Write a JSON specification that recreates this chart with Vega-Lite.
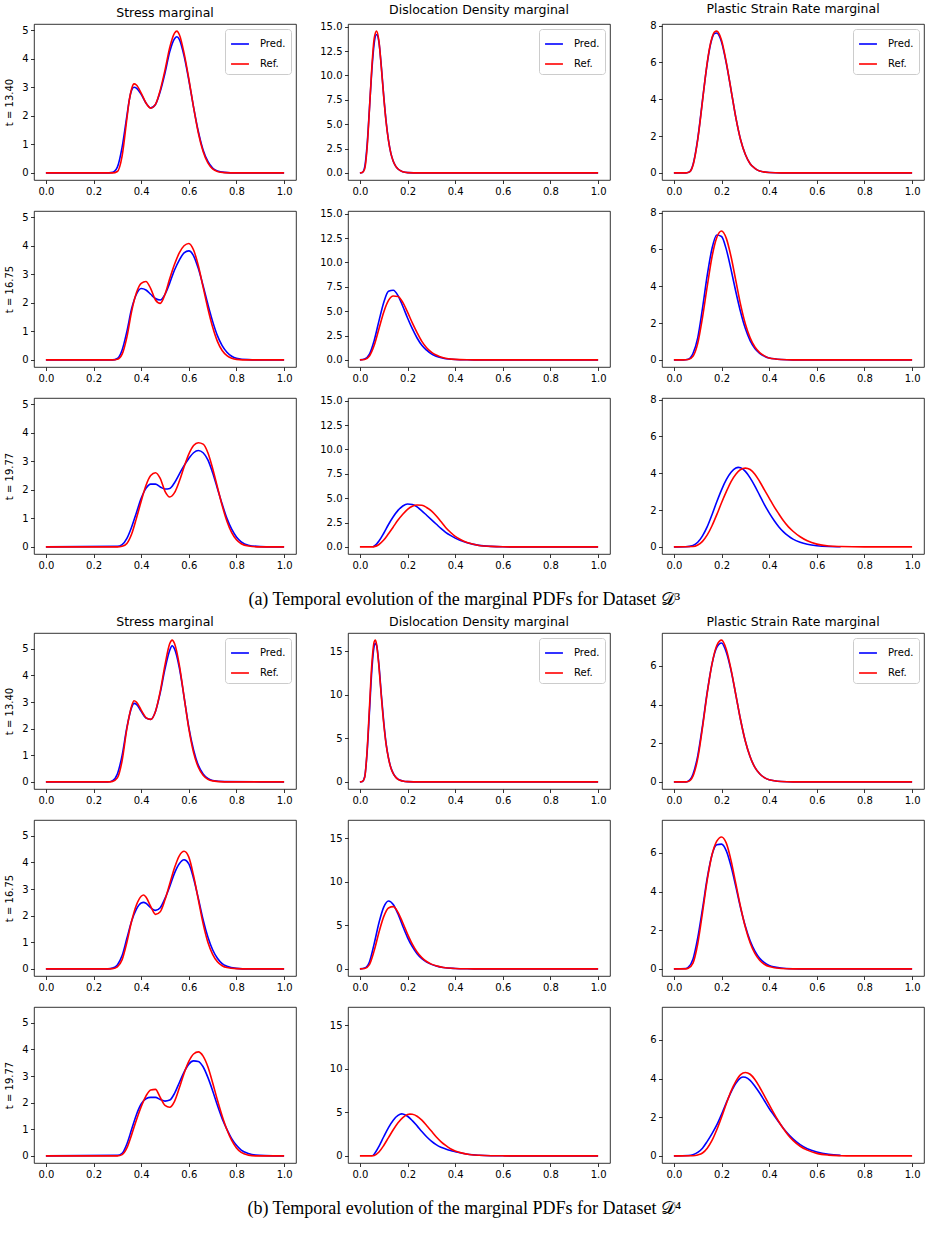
{
  "$schema": "https://vega.github.io/schema/vega-lite/v6.json",
  "padding": {"left": 4, "top": 2, "right": 2, "bottom": 2},
  "background": "#ffffff",
  "data": {"values": [
    {"k": "a1s", "s": "Pred.", "x": [0,0.25,0.28,0.3,0.32,0.34,0.35,0.36,0.37,0.38,0.4,0.42,0.44,0.46,0.48,0.5,0.52,0.54,0.55,0.56,0.58,0.6,0.62,0.64,0.66,0.68,0.7,0.72,0.75,0.8,1], "y": [0,0,0.02,0.2,0.9,2.0,2.55,2.9,3.0,2.97,2.75,2.45,2.28,2.4,2.85,3.5,4.25,4.7,4.77,4.68,4.1,3.25,2.3,1.45,0.8,0.4,0.17,0.07,0.02,0,0]},
    {"k": "a1s", "s": "Ref.", "x": [0,0.25,0.28,0.3,0.32,0.34,0.35,0.36,0.37,0.38,0.4,0.42,0.44,0.46,0.48,0.5,0.52,0.54,0.55,0.56,0.58,0.6,0.62,0.64,0.66,0.68,0.7,0.72,0.75,0.8,1], "y": [0,0,0,0.05,0.6,1.9,2.55,2.95,3.12,3.08,2.8,2.45,2.27,2.4,2.9,3.6,4.4,4.9,4.97,4.85,4.2,3.3,2.3,1.4,0.75,0.35,0.14,0.05,0.01,0,0]},
    {"k": "a1d", "s": "Pred.", "x": [0,0.01,0.02,0.03,0.04,0.05,0.06,0.07,0.08,0.09,0.1,0.11,0.12,0.13,0.14,0.15,0.16,0.18,0.2,0.25,1], "y": [0,0.05,0.6,2.8,6.6,10.5,13.3,14.2,13.4,10.9,7.9,5.3,3.35,2.0,1.2,0.7,0.4,0.12,0.03,0,0]},
    {"k": "a1d", "s": "Ref.", "x": [0,0.01,0.02,0.03,0.04,0.05,0.06,0.07,0.08,0.09,0.1,0.11,0.12,0.13,0.14,0.15,0.16,0.18,0.2,0.25,1], "y": [0,0.05,0.4,2.5,6.5,10.8,13.8,14.55,13.5,10.8,7.8,5.2,3.3,2.0,1.2,0.7,0.4,0.12,0.03,0,0]},
    {"k": "a1p", "s": "Pred.", "x": [0,0.05,0.06,0.07,0.08,0.09,0.1,0.11,0.12,0.13,0.14,0.15,0.16,0.17,0.18,0.19,0.2,0.22,0.24,0.26,0.28,0.3,0.32,0.34,0.36,0.4,0.45,1], "y": [0,0,0.03,0.12,0.45,1.05,1.85,2.85,3.95,5.0,5.95,6.75,7.3,7.57,7.6,7.45,7.1,5.95,4.5,3.0,1.8,1.0,0.5,0.25,0.1,0.02,0,0]},
    {"k": "a1p", "s": "Ref.", "x": [0,0.05,0.06,0.07,0.08,0.09,0.1,0.11,0.12,0.13,0.14,0.15,0.16,0.17,0.18,0.19,0.2,0.22,0.24,0.26,0.28,0.3,0.32,0.34,0.36,0.4,0.45,1], "y": [0,0,0.02,0.1,0.4,1.0,1.8,2.8,3.9,5.0,6.0,6.8,7.35,7.65,7.7,7.55,7.2,6.0,4.5,3.0,1.8,1.0,0.5,0.25,0.1,0.02,0,0]},
    {"k": "a2s", "s": "Pred.", "x": [0,0.28,0.3,0.32,0.34,0.36,0.38,0.4,0.42,0.44,0.46,0.48,0.5,0.52,0.54,0.56,0.58,0.6,0.62,0.64,0.66,0.68,0.7,0.72,0.74,0.76,0.78,0.8,0.85,0.9,1], "y": [0,0,0.05,0.35,1.0,1.8,2.3,2.5,2.45,2.3,2.15,2.1,2.3,2.7,3.15,3.5,3.75,3.82,3.65,3.2,2.6,1.95,1.35,0.85,0.5,0.27,0.13,0.06,0.01,0,0]},
    {"k": "a2s", "s": "Ref.", "x": [0,0.28,0.3,0.32,0.34,0.36,0.38,0.4,0.42,0.44,0.46,0.48,0.5,0.52,0.54,0.56,0.58,0.6,0.62,0.64,0.66,0.68,0.7,0.72,0.74,0.76,0.78,0.8,0.85,0.9,1], "y": [0,0,0.02,0.2,0.8,1.7,2.35,2.68,2.75,2.5,2.1,1.98,2.3,2.85,3.35,3.75,4.0,4.08,3.85,3.3,2.55,1.8,1.15,0.65,0.33,0.15,0.06,0.02,0,0,0]},
    {"k": "a2d", "s": "Pred.", "x": [0,0.02,0.04,0.06,0.08,0.1,0.12,0.14,0.16,0.18,0.2,0.22,0.24,0.26,0.28,0.3,0.32,0.35,0.4,0.45,0.5,1], "y": [0,0.1,0.6,2.0,4.0,5.9,7.05,7.15,6.6,5.5,4.3,3.2,2.25,1.5,1.0,0.62,0.38,0.17,0.04,0.01,0,0]},
    {"k": "a2d", "s": "Ref.", "x": [0,0.02,0.04,0.06,0.08,0.1,0.12,0.14,0.16,0.18,0.2,0.22,0.24,0.26,0.28,0.3,0.32,0.35,0.4,0.45,0.5,1], "y": [0,0.05,0.4,1.5,3.2,4.9,6.1,6.55,6.5,5.9,4.9,3.8,2.8,1.9,1.25,0.8,0.5,0.22,0.05,0.01,0,0]},
    {"k": "a2p", "s": "Pred.", "x": [0,0.04,0.06,0.08,0.1,0.12,0.14,0.16,0.18,0.2,0.22,0.24,0.26,0.28,0.3,0.32,0.34,0.36,0.38,0.4,0.45,0.5,1], "y": [0,0,0.04,0.35,1.2,2.8,4.6,6.05,6.78,6.7,6.0,4.9,3.7,2.6,1.7,1.05,0.62,0.36,0.2,0.1,0.02,0,0]},
    {"k": "a2p", "s": "Ref.", "x": [0,0.04,0.06,0.08,0.1,0.12,0.14,0.16,0.18,0.2,0.22,0.24,0.26,0.28,0.3,0.32,0.34,0.36,0.38,0.4,0.45,0.5,1], "y": [0,0,0.02,0.2,0.9,2.3,4.0,5.6,6.65,7.0,6.6,5.6,4.3,3.0,1.95,1.2,0.7,0.4,0.22,0.1,0.02,0,0]},
    {"k": "a3s", "s": "Pred.", "x": [0,0.3,0.32,0.34,0.36,0.38,0.4,0.42,0.44,0.46,0.48,0.5,0.52,0.54,0.56,0.58,0.6,0.62,0.64,0.66,0.68,0.7,0.72,0.74,0.76,0.78,0.8,0.82,0.85,0.9,0.95,1], "y": [0,0.02,0.08,0.3,0.7,1.2,1.7,2.05,2.2,2.2,2.1,2.03,2.05,2.25,2.55,2.85,3.1,3.3,3.38,3.3,3.05,2.6,2.05,1.5,1.0,0.62,0.35,0.18,0.06,0.01,0,0]},
    {"k": "a3s", "s": "Ref.", "x": [0,0.3,0.32,0.34,0.36,0.38,0.4,0.42,0.44,0.46,0.48,0.5,0.52,0.54,0.56,0.58,0.6,0.62,0.64,0.66,0.68,0.7,0.72,0.74,0.76,0.78,0.8,0.82,0.85,0.9,0.95,1], "y": [0,0,0.02,0.12,0.45,1.0,1.6,2.15,2.5,2.6,2.4,1.95,1.75,1.9,2.3,2.8,3.25,3.55,3.65,3.6,3.3,2.75,2.1,1.45,0.9,0.5,0.25,0.11,0.03,0,0,0]},
    {"k": "a3d", "s": "Pred.", "x": [0.055,0.07,0.08,0.1,0.12,0.14,0.16,0.18,0.2,0.22,0.24,0.26,0.28,0.3,0.32,0.34,0.36,0.38,0.4,0.42,0.45,0.5,0.55,0.6,0.7,1], "y": [0,0.3,0.6,1.4,2.3,3.1,3.75,4.2,4.41,4.35,4.1,3.7,3.25,2.8,2.35,1.9,1.5,1.18,0.9,0.68,0.42,0.16,0.05,0.01,0,0]},
    {"k": "a3d", "s": "Ref.", "x": [0,0.05,0.06,0.08,0.1,0.12,0.14,0.16,0.18,0.2,0.22,0.24,0.26,0.28,0.3,0.32,0.34,0.36,0.38,0.4,0.42,0.45,0.5,0.55,0.6,0.65,1], "y": [0,0,0.03,0.25,0.7,1.35,2.05,2.75,3.35,3.85,4.17,4.3,4.27,4.05,3.7,3.2,2.6,2.0,1.5,1.08,0.78,0.45,0.15,0.05,0.01,0,0]},
    {"k": "a3p", "s": "Pred.", "x": [0,0.05,0.08,0.1,0.12,0.14,0.16,0.18,0.2,0.22,0.24,0.26,0.27,0.28,0.3,0.32,0.34,0.36,0.38,0.4,0.42,0.44,0.46,0.48,0.5,0.53,0.56,0.6,0.65,0.7], "y": [0,0.01,0.08,0.25,0.6,1.1,1.75,2.45,3.1,3.65,4.05,4.28,4.32,4.3,4.1,3.75,3.3,2.8,2.3,1.85,1.45,1.1,0.82,0.6,0.42,0.25,0.14,0.06,0.02,0.01]},
    {"k": "a3p", "s": "Ref.", "x": [0,0.08,0.1,0.12,0.14,0.16,0.18,0.2,0.22,0.24,0.26,0.28,0.3,0.32,0.34,0.36,0.38,0.4,0.42,0.44,0.46,0.48,0.5,0.53,0.56,0.6,0.65,0.7,0.8,1], "y": [0,0.02,0.1,0.3,0.65,1.15,1.75,2.4,3.0,3.55,3.95,4.2,4.28,4.2,3.95,3.55,3.1,2.65,2.2,1.8,1.42,1.1,0.85,0.55,0.33,0.15,0.05,0.02,0,0]},
    {"k": "b1s", "s": "Pred.", "x": [0,0.26,0.28,0.3,0.32,0.34,0.36,0.37,0.38,0.4,0.42,0.44,0.46,0.48,0.5,0.52,0.53,0.54,0.56,0.58,0.6,0.62,0.64,0.66,0.68,0.7,0.75,1], "y": [0,0,0.05,0.3,1.0,2.05,2.8,2.95,2.92,2.65,2.4,2.35,2.65,3.35,4.25,4.95,5.12,5.0,4.3,3.2,2.05,1.2,0.62,0.3,0.13,0.05,0.01,0]},
    {"k": "b1s", "s": "Ref.", "x": [0,0.26,0.28,0.3,0.32,0.34,0.36,0.37,0.38,0.4,0.42,0.44,0.46,0.48,0.5,0.52,0.53,0.54,0.56,0.58,0.6,0.62,0.64,0.66,0.68,0.7,0.75,1], "y": [0,0,0.02,0.15,0.8,2.0,2.85,3.05,3.0,2.7,2.42,2.35,2.65,3.4,4.4,5.2,5.33,5.2,4.4,3.2,2.0,1.1,0.55,0.25,0.1,0.04,0,0]},
    {"k": "b1d", "s": "Pred.", "x": [0,0.01,0.02,0.03,0.04,0.05,0.06,0.065,0.07,0.08,0.09,0.1,0.11,0.12,0.13,0.14,0.15,0.16,0.18,0.2,0.25,1], "y": [0,0.05,0.6,3.3,8.0,12.8,15.6,15.9,15.7,13.4,10.0,6.9,4.4,2.75,1.65,0.98,0.56,0.31,0.1,0.03,0,0]},
    {"k": "b1d", "s": "Ref.", "x": [0,0.01,0.02,0.03,0.04,0.05,0.06,0.065,0.07,0.08,0.09,0.1,0.11,0.12,0.13,0.14,0.15,0.16,0.18,0.2,0.25,1], "y": [0,0.05,0.5,3.5,8.5,13.5,16.1,16.28,15.8,13.2,9.8,6.7,4.3,2.7,1.6,0.95,0.55,0.3,0.1,0.03,0,0]},
    {"k": "b1p", "s": "Pred.", "x": [0,0.05,0.06,0.07,0.08,0.1,0.12,0.14,0.16,0.18,0.2,0.22,0.24,0.26,0.28,0.3,0.32,0.34,0.36,0.38,0.4,0.45,0.5,1], "y": [0,0,0.04,0.15,0.4,1.35,2.9,4.65,6.1,6.95,7.18,6.7,5.75,4.5,3.2,2.1,1.3,0.75,0.42,0.22,0.11,0.02,0,0]},
    {"k": "b1p", "s": "Ref.", "x": [0,0.05,0.06,0.07,0.08,0.1,0.12,0.14,0.16,0.18,0.2,0.22,0.24,0.26,0.28,0.3,0.32,0.34,0.36,0.38,0.4,0.45,0.5,1], "y": [0,0,0.02,0.1,0.3,1.2,2.8,4.6,6.1,7.05,7.33,6.85,5.8,4.5,3.2,2.1,1.3,0.75,0.42,0.22,0.11,0.02,0,0]},
    {"k": "b2s", "s": "Pred.", "x": [0,0.26,0.28,0.3,0.32,0.34,0.36,0.38,0.4,0.41,0.42,0.44,0.46,0.48,0.5,0.52,0.54,0.56,0.58,0.6,0.62,0.64,0.66,0.68,0.7,0.72,0.74,0.76,0.8,0.85,1], "y": [0,0,0.03,0.15,0.5,1.15,1.8,2.25,2.48,2.5,2.47,2.3,2.2,2.3,2.65,3.1,3.6,3.95,4.1,3.95,3.4,2.65,1.85,1.2,0.72,0.4,0.2,0.1,0.02,0,0]},
    {"k": "b2s", "s": "Ref.", "x": [0,0.26,0.28,0.3,0.32,0.34,0.36,0.38,0.4,0.41,0.42,0.44,0.46,0.48,0.5,0.52,0.54,0.56,0.58,0.6,0.62,0.64,0.66,0.68,0.7,0.72,0.74,0.76,0.8,0.85,1], "y": [0,0,0.01,0.08,0.35,1.0,1.8,2.4,2.73,2.78,2.7,2.35,2.05,2.15,2.6,3.2,3.8,4.25,4.42,4.2,3.5,2.6,1.7,1.0,0.55,0.27,0.12,0.05,0.01,0,0]},
    {"k": "b2d", "s": "Pred.", "x": [0,0.02,0.04,0.06,0.08,0.1,0.12,0.14,0.16,0.18,0.2,0.22,0.24,0.26,0.28,0.3,0.32,0.35,0.4,0.45,0.5,1], "y": [0,0.1,0.8,2.9,5.3,7.1,7.8,7.4,6.3,4.9,3.6,2.55,1.75,1.18,0.78,0.52,0.34,0.16,0.05,0.01,0,0]},
    {"k": "b2d", "s": "Ref.", "x": [0,0.02,0.04,0.06,0.08,0.1,0.12,0.14,0.16,0.18,0.2,0.22,0.24,0.26,0.28,0.3,0.32,0.35,0.4,0.45,0.5,1], "y": [0,0.05,0.5,2.1,4.2,6.0,7.0,7.15,6.5,5.3,4.0,2.85,1.95,1.3,0.85,0.55,0.35,0.16,0.04,0.01,0,0]},
    {"k": "b2p", "s": "Pred.", "x": [0,0.05,0.06,0.08,0.1,0.12,0.14,0.16,0.18,0.2,0.22,0.24,0.26,0.28,0.3,0.32,0.34,0.36,0.38,0.4,0.45,0.5,0.55,1], "y": [0,0.02,0.08,0.5,1.6,3.1,4.7,5.9,6.42,6.45,6.1,5.3,4.25,3.15,2.2,1.45,0.92,0.55,0.32,0.18,0.05,0.01,0,0]},
    {"k": "b2p", "s": "Ref.", "x": [0,0.05,0.06,0.08,0.1,0.12,0.14,0.16,0.18,0.2,0.22,0.24,0.26,0.28,0.3,0.32,0.34,0.36,0.38,0.4,0.45,0.5,0.55,1], "y": [0,0,0.03,0.3,1.3,2.9,4.6,5.9,6.6,6.82,6.5,5.6,4.4,3.2,2.15,1.35,0.8,0.45,0.24,0.12,0.02,0,0,0]},
    {"k": "b3s", "s": "Pred.", "x": [0,0.3,0.32,0.34,0.36,0.38,0.4,0.42,0.44,0.46,0.48,0.5,0.52,0.54,0.56,0.58,0.6,0.62,0.64,0.66,0.68,0.7,0.72,0.74,0.76,0.78,0.8,0.82,0.85,0.88,0.92,1], "y": [0,0.02,0.1,0.45,1.0,1.55,1.95,2.15,2.2,2.2,2.12,2.06,2.1,2.35,2.75,3.15,3.45,3.57,3.55,3.35,2.95,2.45,1.9,1.4,1.0,0.65,0.4,0.22,0.09,0.03,0.01,0]},
    {"k": "b3s", "s": "Ref.", "x": [0,0.3,0.32,0.34,0.36,0.38,0.4,0.42,0.44,0.46,0.48,0.5,0.52,0.54,0.56,0.58,0.6,0.62,0.64,0.66,0.68,0.7,0.72,0.74,0.76,0.78,0.8,0.82,0.85,0.88,0.92,1], "y": [0,0,0.05,0.3,0.8,1.35,1.85,2.25,2.48,2.5,2.2,1.9,1.83,2.05,2.55,3.1,3.55,3.83,3.91,3.75,3.35,2.75,2.1,1.5,0.98,0.58,0.3,0.13,0.03,0,0,0]},
    {"k": "b3d", "s": "Pred.", "x": [0.055,0.06,0.08,0.1,0.12,0.14,0.16,0.175,0.18,0.2,0.22,0.24,0.26,0.28,0.3,0.32,0.34,0.36,0.38,0.4,0.43,0.46,0.5,0.55,0.6,0.7,1], "y": [0.05,0.2,1.1,2.2,3.25,4.1,4.65,4.83,4.82,4.55,4.05,3.45,2.8,2.2,1.7,1.3,1.0,0.8,0.62,0.48,0.3,0.16,0.07,0.02,0.01,0,0]},
    {"k": "b3d", "s": "Ref.", "x": [0,0.05,0.06,0.08,0.1,0.12,0.14,0.16,0.18,0.2,0.21,0.22,0.24,0.26,0.28,0.3,0.32,0.34,0.36,0.38,0.4,0.43,0.46,0.5,0.55,0.6,0.65,1], "y": [0,0,0.05,0.45,1.2,2.1,3.0,3.8,4.4,4.75,4.8,4.78,4.55,4.1,3.5,2.85,2.2,1.65,1.2,0.82,0.56,0.32,0.17,0.07,0.02,0.01,0,0]},
    {"k": "b3p", "s": "Pred.", "x": [0,0.06,0.08,0.1,0.12,0.14,0.16,0.18,0.2,0.22,0.24,0.26,0.28,0.29,0.3,0.32,0.34,0.36,0.38,0.4,0.42,0.44,0.46,0.48,0.5,0.53,0.56,0.6,0.65,0.7], "y": [0,0.02,0.06,0.18,0.4,0.75,1.15,1.6,2.15,2.75,3.3,3.75,4.03,4.08,4.06,3.9,3.6,3.25,2.85,2.45,2.1,1.75,1.42,1.13,0.88,0.58,0.37,0.2,0.08,0.03]},
    {"k": "b3p", "s": "Ref.", "x": [0,0.08,0.1,0.12,0.14,0.16,0.18,0.2,0.22,0.24,0.26,0.28,0.3,0.32,0.34,0.36,0.38,0.4,0.42,0.44,0.46,0.48,0.5,0.53,0.56,0.6,0.65,0.7,0.75,1], "y": [0,0.01,0.05,0.15,0.4,0.8,1.35,2.0,2.7,3.35,3.85,4.2,4.31,4.22,3.95,3.55,3.1,2.65,2.2,1.78,1.4,1.07,0.8,0.5,0.3,0.13,0.04,0.01,0,0]}
  ]},
  "config": {
    "font": "DejaVu Sans",
    "view": {"stroke": "#000000", "strokeWidth": 0.8},
    "line": {"strokeWidth": 1.6, "interpolate": "monotone"},
    "axis": {"domain": false, "grid": false, "labelFont": "DejaVu Sans", "labelFontSize": 10, "labelColor": "#000000", "tickColor": "#000000", "tickSize": 3.5, "tickWidth": 0.8, "labelPadding": 2.5, "titleFont": "DejaVu Sans", "titleFontSize": 10, "titleFontWeight": "normal", "titleColor": "#000000", "labelFlush": false, "labelOverlap": false},
    "axisY": {"titlePadding": 7},
    "title": {"font": "DejaVu Sans", "fontSize": 12.5, "fontWeight": "normal", "color": "#000000", "offset": 5},
    "legend": {"orient": "top-right", "offset": 5, "padding": 5, "fillColor": "rgba(255,255,255,0.8)", "strokeColor": "#cccccc", "cornerRadius": 3, "symbolType": "stroke", "symbolStrokeWidth": 1.6, "symbolSize": 320, "labelFont": "DejaVu Sans", "labelFontSize": 10, "labelColor": "#000000", "rowPadding": 5, "labelOffset": 10}
  },
  "resolve": {"scale": {"color": "independent"}, "legend": {"color": "independent"}},
  "spacing": 5,
  "vconcat": [
    {
      "title": {"text": "(a) Temporal evolution of the marginal PDFs for Dataset 𝒟³", "orient": "bottom", "anchor": "middle", "font": "Liberation Serif", "fontSize": 18, "offset": 21},
      "columns": 3,
      "spacing": {"row": 31, "column": 52},
      "bounds": "flush",
      "resolve": {"scale": {"color": "independent"}, "legend": {"color": "independent"}},
      "concat": [
        {"title": "Stress marginal", "width": 262, "height": 156, "transform": [{"filter": "datum.k == 'a1s'"}, {"flatten": ["x", "y"]}], "mark": "line",
         "encoding": {"x": {"field": "x", "type": "quantitative", "scale": {"domain": [-0.05, 1.05], "nice": false}, "axis": {"values": [0,0.2,0.4,0.6,0.8,1], "format": ".1f", "title": null}},
                      "y": {"field": "y", "type": "quantitative", "scale": {"domain": [-0.2485, 5.2185], "nice": false, "zero": false}, "axis": {"values": [0,1,2,3,4,5], "format": "d", "title": "t = 13.40"}},
                      "color": {"field": "s", "type": "nominal", "scale": {"domain": ["Pred.", "Ref."], "range": ["#0000ff", "#ff0000"]}, "legend": {"title": null}}}},
        {"title": "Dislocation Density marginal", "width": 262, "height": 156, "transform": [{"filter": "datum.k == 'a1d'"}, {"flatten": ["x", "y"]}], "mark": "line",
         "encoding": {"x": {"field": "x", "type": "quantitative", "scale": {"domain": [-0.05, 1.05], "nice": false}, "axis": {"values": [0,0.2,0.4,0.6,0.8,1], "format": ".1f", "title": null}},
                      "y": {"field": "y", "type": "quantitative", "scale": {"domain": [-0.7275, 15.2775], "nice": false, "zero": false}, "axis": {"values": [0,2.5,5,7.5,10,12.5,15], "format": ".1f", "title": null}},
                      "color": {"field": "s", "type": "nominal", "scale": {"domain": ["Pred.", "Ref."], "range": ["#0000ff", "#ff0000"]}, "legend": {"title": null}}}},
        {"title": "Plastic Strain Rate marginal", "width": 262, "height": 156, "transform": [{"filter": "datum.k == 'a1p'"}, {"flatten": ["x", "y"]}], "mark": "line",
         "encoding": {"x": {"field": "x", "type": "quantitative", "scale": {"domain": [-0.05, 1.05], "nice": false}, "axis": {"values": [0,0.2,0.4,0.6,0.8,1], "format": ".1f", "title": null}},
                      "y": {"field": "y", "type": "quantitative", "scale": {"domain": [-0.385, 8.085], "nice": false, "zero": false}, "axis": {"values": [0,2,4,6,8], "format": "d", "title": null}},
                      "color": {"field": "s", "type": "nominal", "scale": {"domain": ["Pred.", "Ref."], "range": ["#0000ff", "#ff0000"]}, "legend": {"title": null}}}},
        {"width": 262, "height": 156, "transform": [{"filter": "datum.k == 'a2s'"}, {"flatten": ["x", "y"]}], "mark": "line",
         "encoding": {"x": {"field": "x", "type": "quantitative", "scale": {"domain": [-0.05, 1.05], "nice": false}, "axis": {"values": [0,0.2,0.4,0.6,0.8,1], "format": ".1f", "title": null}},
                      "y": {"field": "y", "type": "quantitative", "scale": {"domain": [-0.2485, 5.2185], "nice": false, "zero": false}, "axis": {"values": [0,1,2,3,4,5], "format": "d", "title": "t = 16.75"}},
                      "color": {"field": "s", "type": "nominal", "scale": {"domain": ["Pred.", "Ref."], "range": ["#0000ff", "#ff0000"]}, "legend": null}}},
        {"width": 262, "height": 156, "transform": [{"filter": "datum.k == 'a2d'"}, {"flatten": ["x", "y"]}], "mark": "line",
         "encoding": {"x": {"field": "x", "type": "quantitative", "scale": {"domain": [-0.05, 1.05], "nice": false}, "axis": {"values": [0,0.2,0.4,0.6,0.8,1], "format": ".1f", "title": null}},
                      "y": {"field": "y", "type": "quantitative", "scale": {"domain": [-0.7275, 15.2775], "nice": false, "zero": false}, "axis": {"values": [0,2.5,5,7.5,10,12.5,15], "format": ".1f", "title": null}},
                      "color": {"field": "s", "type": "nominal", "scale": {"domain": ["Pred.", "Ref."], "range": ["#0000ff", "#ff0000"]}, "legend": null}}},
        {"width": 262, "height": 156, "transform": [{"filter": "datum.k == 'a2p'"}, {"flatten": ["x", "y"]}], "mark": "line",
         "encoding": {"x": {"field": "x", "type": "quantitative", "scale": {"domain": [-0.05, 1.05], "nice": false}, "axis": {"values": [0,0.2,0.4,0.6,0.8,1], "format": ".1f", "title": null}},
                      "y": {"field": "y", "type": "quantitative", "scale": {"domain": [-0.385, 8.085], "nice": false, "zero": false}, "axis": {"values": [0,2,4,6,8], "format": "d", "title": null}},
                      "color": {"field": "s", "type": "nominal", "scale": {"domain": ["Pred.", "Ref."], "range": ["#0000ff", "#ff0000"]}, "legend": null}}},
        {"width": 262, "height": 156, "transform": [{"filter": "datum.k == 'a3s'"}, {"flatten": ["x", "y"]}], "mark": "line",
         "encoding": {"x": {"field": "x", "type": "quantitative", "scale": {"domain": [-0.05, 1.05], "nice": false}, "axis": {"values": [0,0.2,0.4,0.6,0.8,1], "format": ".1f", "title": null}},
                      "y": {"field": "y", "type": "quantitative", "scale": {"domain": [-0.2485, 5.2185], "nice": false, "zero": false}, "axis": {"values": [0,1,2,3,4,5], "format": "d", "title": "t = 19.77"}},
                      "color": {"field": "s", "type": "nominal", "scale": {"domain": ["Pred.", "Ref."], "range": ["#0000ff", "#ff0000"]}, "legend": null}}},
        {"width": 262, "height": 156, "transform": [{"filter": "datum.k == 'a3d'"}, {"flatten": ["x", "y"]}], "mark": "line",
         "encoding": {"x": {"field": "x", "type": "quantitative", "scale": {"domain": [-0.05, 1.05], "nice": false}, "axis": {"values": [0,0.2,0.4,0.6,0.8,1], "format": ".1f", "title": null}},
                      "y": {"field": "y", "type": "quantitative", "scale": {"domain": [-0.7275, 15.2775], "nice": false, "zero": false}, "axis": {"values": [0,2.5,5,7.5,10,12.5,15], "format": ".1f", "title": null}},
                      "color": {"field": "s", "type": "nominal", "scale": {"domain": ["Pred.", "Ref."], "range": ["#0000ff", "#ff0000"]}, "legend": null}}},
        {"width": 262, "height": 156, "transform": [{"filter": "datum.k == 'a3p'"}, {"flatten": ["x", "y"]}], "mark": "line",
         "encoding": {"x": {"field": "x", "type": "quantitative", "scale": {"domain": [-0.05, 1.05], "nice": false}, "axis": {"values": [0,0.2,0.4,0.6,0.8,1], "format": ".1f", "title": null}},
                      "y": {"field": "y", "type": "quantitative", "scale": {"domain": [-0.385, 8.085], "nice": false, "zero": false}, "axis": {"values": [0,2,4,6,8], "format": "d", "title": null}},
                      "color": {"field": "s", "type": "nominal", "scale": {"domain": ["Pred.", "Ref."], "range": ["#0000ff", "#ff0000"]}, "legend": null}}}
      ]
    },
    {
      "title": {"text": "(b) Temporal evolution of the marginal PDFs for Dataset 𝒟⁴", "orient": "bottom", "anchor": "middle", "font": "Liberation Serif", "fontSize": 18, "offset": 21},
      "columns": 3,
      "spacing": {"row": 31, "column": 52},
      "bounds": "flush",
      "resolve": {"scale": {"color": "independent"}, "legend": {"color": "independent"}},
      "concat": [
        {"title": "Stress marginal", "width": 262, "height": 156, "transform": [{"filter": "datum.k == 'b1s'"}, {"flatten": ["x", "y"]}], "mark": "line",
         "encoding": {"x": {"field": "x", "type": "quantitative", "scale": {"domain": [-0.05, 1.05], "nice": false}, "axis": {"values": [0,0.2,0.4,0.6,0.8,1], "format": ".1f", "title": null}},
                      "y": {"field": "y", "type": "quantitative", "scale": {"domain": [-0.2665, 5.5965], "nice": false, "zero": false}, "axis": {"values": [0,1,2,3,4,5], "format": "d", "title": "t = 13.40"}},
                      "color": {"field": "s", "type": "nominal", "scale": {"domain": ["Pred.", "Ref."], "range": ["#0000ff", "#ff0000"]}, "legend": {"title": null}}}},
        {"title": "Dislocation Density marginal", "width": 262, "height": 156, "transform": [{"filter": "datum.k == 'b1d'"}, {"flatten": ["x", "y"]}], "mark": "line",
         "encoding": {"x": {"field": "x", "type": "quantitative", "scale": {"domain": [-0.05, 1.05], "nice": false}, "axis": {"values": [0,0.2,0.4,0.6,0.8,1], "format": ".1f", "title": null}},
                      "y": {"field": "y", "type": "quantitative", "scale": {"domain": [-0.814, 17.094], "nice": false, "zero": false}, "axis": {"values": [0,5,10,15], "format": "d", "title": null}},
                      "color": {"field": "s", "type": "nominal", "scale": {"domain": ["Pred.", "Ref."], "range": ["#0000ff", "#ff0000"]}, "legend": {"title": null}}}},
        {"title": "Plastic Strain Rate marginal", "width": 262, "height": 156, "transform": [{"filter": "datum.k == 'b1p'"}, {"flatten": ["x", "y"]}], "mark": "line",
         "encoding": {"x": {"field": "x", "type": "quantitative", "scale": {"domain": [-0.05, 1.05], "nice": false}, "axis": {"values": [0,0.2,0.4,0.6,0.8,1], "format": ".1f", "title": null}},
                      "y": {"field": "y", "type": "quantitative", "scale": {"domain": [-0.3665, 7.6965], "nice": false, "zero": false}, "axis": {"values": [0,2,4,6], "format": "d", "title": null}},
                      "color": {"field": "s", "type": "nominal", "scale": {"domain": ["Pred.", "Ref."], "range": ["#0000ff", "#ff0000"]}, "legend": {"title": null}}}},
        {"width": 262, "height": 156, "transform": [{"filter": "datum.k == 'b2s'"}, {"flatten": ["x", "y"]}], "mark": "line",
         "encoding": {"x": {"field": "x", "type": "quantitative", "scale": {"domain": [-0.05, 1.05], "nice": false}, "axis": {"values": [0,0.2,0.4,0.6,0.8,1], "format": ".1f", "title": null}},
                      "y": {"field": "y", "type": "quantitative", "scale": {"domain": [-0.2665, 5.5965], "nice": false, "zero": false}, "axis": {"values": [0,1,2,3,4,5], "format": "d", "title": "t = 16.75"}},
                      "color": {"field": "s", "type": "nominal", "scale": {"domain": ["Pred.", "Ref."], "range": ["#0000ff", "#ff0000"]}, "legend": null}}},
        {"width": 262, "height": 156, "transform": [{"filter": "datum.k == 'b2d'"}, {"flatten": ["x", "y"]}], "mark": "line",
         "encoding": {"x": {"field": "x", "type": "quantitative", "scale": {"domain": [-0.05, 1.05], "nice": false}, "axis": {"values": [0,0.2,0.4,0.6,0.8,1], "format": ".1f", "title": null}},
                      "y": {"field": "y", "type": "quantitative", "scale": {"domain": [-0.814, 17.094], "nice": false, "zero": false}, "axis": {"values": [0,5,10,15], "format": "d", "title": null}},
                      "color": {"field": "s", "type": "nominal", "scale": {"domain": ["Pred.", "Ref."], "range": ["#0000ff", "#ff0000"]}, "legend": null}}},
        {"width": 262, "height": 156, "transform": [{"filter": "datum.k == 'b2p'"}, {"flatten": ["x", "y"]}], "mark": "line",
         "encoding": {"x": {"field": "x", "type": "quantitative", "scale": {"domain": [-0.05, 1.05], "nice": false}, "axis": {"values": [0,0.2,0.4,0.6,0.8,1], "format": ".1f", "title": null}},
                      "y": {"field": "y", "type": "quantitative", "scale": {"domain": [-0.3665, 7.6965], "nice": false, "zero": false}, "axis": {"values": [0,2,4,6], "format": "d", "title": null}},
                      "color": {"field": "s", "type": "nominal", "scale": {"domain": ["Pred.", "Ref."], "range": ["#0000ff", "#ff0000"]}, "legend": null}}},
        {"width": 262, "height": 156, "transform": [{"filter": "datum.k == 'b3s'"}, {"flatten": ["x", "y"]}], "mark": "line",
         "encoding": {"x": {"field": "x", "type": "quantitative", "scale": {"domain": [-0.05, 1.05], "nice": false}, "axis": {"values": [0,0.2,0.4,0.6,0.8,1], "format": ".1f", "title": null}},
                      "y": {"field": "y", "type": "quantitative", "scale": {"domain": [-0.2665, 5.5965], "nice": false, "zero": false}, "axis": {"values": [0,1,2,3,4,5], "format": "d", "title": "t = 19.77"}},
                      "color": {"field": "s", "type": "nominal", "scale": {"domain": ["Pred.", "Ref."], "range": ["#0000ff", "#ff0000"]}, "legend": null}}},
        {"width": 262, "height": 156, "transform": [{"filter": "datum.k == 'b3d'"}, {"flatten": ["x", "y"]}], "mark": "line",
         "encoding": {"x": {"field": "x", "type": "quantitative", "scale": {"domain": [-0.05, 1.05], "nice": false}, "axis": {"values": [0,0.2,0.4,0.6,0.8,1], "format": ".1f", "title": null}},
                      "y": {"field": "y", "type": "quantitative", "scale": {"domain": [-0.814, 17.094], "nice": false, "zero": false}, "axis": {"values": [0,5,10,15], "format": "d", "title": null}},
                      "color": {"field": "s", "type": "nominal", "scale": {"domain": ["Pred.", "Ref."], "range": ["#0000ff", "#ff0000"]}, "legend": null}}},
        {"width": 262, "height": 156, "transform": [{"filter": "datum.k == 'b3p'"}, {"flatten": ["x", "y"]}], "mark": "line",
         "encoding": {"x": {"field": "x", "type": "quantitative", "scale": {"domain": [-0.05, 1.05], "nice": false}, "axis": {"values": [0,0.2,0.4,0.6,0.8,1], "format": ".1f", "title": null}},
                      "y": {"field": "y", "type": "quantitative", "scale": {"domain": [-0.3665, 7.6965], "nice": false, "zero": false}, "axis": {"values": [0,2,4,6], "format": "d", "title": null}},
                      "color": {"field": "s", "type": "nominal", "scale": {"domain": ["Pred.", "Ref."], "range": ["#0000ff", "#ff0000"]}, "legend": null}}}
      ]
    }
  ]
}
